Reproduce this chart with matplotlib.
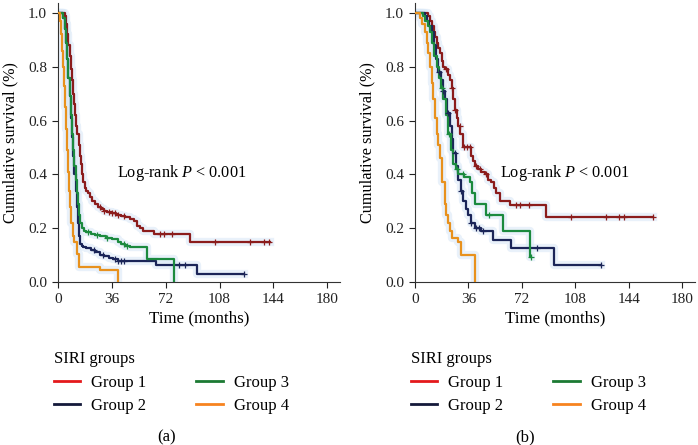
import numpy as np
import matplotlib
matplotlib.use("Agg")
import matplotlib.pyplot as plt

plt.rcParams['font.family'] = ['Liberation Serif', 'DejaVu Serif']
plt.rcParams['mathtext.fontset'] = 'custom'
plt.rcParams['mathtext.rm'] = 'Liberation Serif'
plt.rcParams['mathtext.it'] = 'Liberation Serif:italic'

group_names = ['Group 1', 'Group 2', 'Group 3', 'Group 4']
curve_colors = ['#8b1c1c', '#1b2558', '#1b8a3e', '#e8911d']
legend_colors = ['#e4191c', '#14193a', '#1c7a33', '#f7831f']
x_ticks = [0, 36, 72, 108, 144, 180]
y_ticks = [0.0, 0.2, 0.4, 0.6, 0.8, 1.0]

# ---- panel (a) ----
a_g1_time = [0, 4.7, 5.5, 6.3, 7.0, 7.8, 8.6, 9.3, 10.0, 10.8, 11.5, 12.3, 13.0, 13.8, 14.6, 15.4,
             16.2, 17.0, 17.8, 18.6, 20, 21.5, 23, 25, 27, 29, 31, 33, 36, 39, 42, 45, 48, 50.5,
             53, 55, 57, 64, 88.4, 142]
a_g1_surv = [1.0, 0.99, 0.96, 0.92, 0.88, 0.84, 0.79, 0.75, 0.70, 0.66, 0.62, 0.58, 0.55, 0.51, 0.47,
             0.44, 0.40, 0.37, 0.35, 0.34, 0.33, 0.315, 0.30, 0.29, 0.28, 0.27, 0.265, 0.26, 0.255,
             0.25, 0.245, 0.24, 0.235, 0.225, 0.21, 0.20, 0.19, 0.18, 0.15, 0.15]
a_g1_cens = [28, 31, 34, 36, 38, 40, 44, 68, 71, 76, 105, 128.6, 137.6, 141]

a_g2_time = [0, 3.6, 4.5, 5.4, 6.2, 7.0, 7.8, 8.6, 9.4, 10.2, 11.0, 11.8, 12.6, 13.4, 14.2, 15.0,
             16, 17, 19, 22, 25, 28, 31, 34, 37, 40, 65.5, 93, 124]
a_g2_surv = [1.0, 0.98, 0.94, 0.89, 0.83, 0.76, 0.69, 0.61, 0.54, 0.47, 0.40, 0.34, 0.28, 0.22,
             0.17, 0.14, 0.135, 0.13, 0.125, 0.12, 0.11, 0.10, 0.095, 0.09, 0.085, 0.077, 0.062,
             0.03, 0.03]
a_g2_cens = [24, 30, 38, 40, 42, 44, 81, 85, 124]

a_g3_time = [0, 3.6, 4.5, 5.4, 6.2, 7.0, 7.8, 8.6, 9.4, 10.2, 11.0, 11.8, 12.6, 13.4, 14.2, 15.0,
             16, 17.5, 19, 22, 25, 28, 32, 36, 40, 42, 45, 48, 59.4, 77.3]
a_g3_surv = [1.0, 0.98, 0.94, 0.89, 0.83, 0.76, 0.69, 0.62, 0.55, 0.49, 0.43, 0.38, 0.33, 0.29,
             0.25, 0.22, 0.20, 0.19, 0.185, 0.18, 0.175, 0.17, 0.165, 0.16, 0.15, 0.14, 0.135,
             0.13, 0.087, 0.0]
a_g3_cens = [20, 26, 33, 44, 46]

a_g4_time = [0, 1.3, 2.0, 2.7, 3.4, 4.1, 4.8, 5.5, 6.2, 6.9, 7.6, 8.3, 9.0, 10.0, 11.0, 12.5,
             14.3, 28, 40.4]
a_g4_surv = [1.0, 0.97, 0.92, 0.86, 0.80, 0.73, 0.65, 0.57, 0.49, 0.41, 0.34, 0.28, 0.22, 0.17,
             0.15, 0.105, 0.056, 0.043, 0.0]
a_g4_cens = []

# ---- panel (b) ----
b_g1_time = [0, 9, 10, 11.2, 12.5, 13.5, 14.5, 15.6, 16.8, 18, 19, 20.5, 22.4, 23.5, 24.6, 25.7,
             26.8, 28, 29.1, 30.5, 32.4, 38, 39.1, 40.5, 42.5, 44.5, 47, 49, 51.4, 53, 54.8, 57,
             63.7, 88.3, 160]
b_g1_surv = [1.0, 0.99, 0.97, 0.95, 0.93, 0.91, 0.89, 0.87, 0.85, 0.82, 0.80, 0.79, 0.77, 0.75,
             0.72, 0.68, 0.64, 0.61, 0.58, 0.55, 0.50, 0.47, 0.45, 0.43, 0.42, 0.41, 0.40, 0.38,
             0.37, 0.35, 0.33, 0.30, 0.285, 0.24, 0.24]
b_g1_cens = [21, 25, 27, 30, 33, 35, 37, 41, 44, 48, 68, 71, 77, 105, 128.6, 137.5, 141, 160]

b_g2_time = [0, 6.7, 8, 9.5, 11.2, 12.7, 14.2, 15.7, 17.2, 18.7, 20.1, 21.8, 23.5, 24.6, 25.7,
             27.4, 29.1, 30.7, 32.4, 34.1, 35.8, 38, 40.3, 44.7, 52.5, 64.8, 93.9, 125]
b_g2_surv = [1.0, 0.99, 0.97, 0.95, 0.93, 0.88, 0.83, 0.78, 0.75, 0.71, 0.68, 0.63, 0.58, 0.53,
             0.48, 0.43, 0.38, 0.34, 0.30, 0.27, 0.25, 0.22, 0.20, 0.19, 0.155, 0.125, 0.062,
             0.062]
b_g2_cens = [16, 19, 22, 27, 31, 38, 41, 43, 46, 82, 125]

b_g3_time = [0, 5.6, 7, 8.5, 10, 11.5, 13, 14.5, 16, 17.5, 19, 20.7, 22.4, 24, 25.7, 27.4, 29.1,
             33, 36.9, 38.5, 40.3, 48.1, 59.3, 77.1, 78.3]
b_g3_surv = [1.0, 0.99, 0.97, 0.95, 0.93, 0.89, 0.84, 0.80, 0.76, 0.72, 0.68, 0.62, 0.55, 0.49,
             0.44, 0.42, 0.40, 0.39, 0.37, 0.33, 0.29, 0.25, 0.19, 0.093, 0.093]
b_g3_cens = [18, 23, 28, 32, 50, 78.3]

b_g4_time = [0, 3.4, 5, 6.7, 7.8, 8.9, 10, 11.2, 12.3, 13.4, 14.5, 15.6, 16.8, 18.4, 20.1, 21.2,
             22.4, 23.5, 24.6, 29.1, 31.3, 40.3]
b_g4_surv = [1.0, 0.98, 0.96, 0.93, 0.89, 0.85, 0.80, 0.74, 0.68, 0.61, 0.55, 0.51, 0.46, 0.37,
             0.29, 0.25, 0.22, 0.19, 0.165, 0.15, 0.10, 0.0]
b_g4_cens = []


def surv_at(times, surv, t):
    # value of a step (post) curve at time t
    i = np.searchsorted(times, t, side='right') - 1
    return np.array(surv)[i]


def km_panel(ax, curves, p_x):
    for (times, surv, cens), col in zip(curves, curve_colors):
        ax.step(times, surv, where='post', color='#dbe9f7', lw=6, alpha=0.6, zorder=1)
    for (times, surv, cens), col in zip(curves, curve_colors):
        ax.step(times, surv, where='post', color=col, lw=1.6, zorder=3)
        if len(cens) > 0:
            ax.plot(cens, [surv_at(times, surv, c) for c in cens], ls='none', marker='+',
                    ms=4, mew=0.9, color=col, zorder=4)
    ax.set_xlim(0, 188.5)
    ax.set_ylim(0, 1.037)
    ax.set_xticks(x_ticks)
    ax.set_yticks(y_ticks)
    ax.set_yticklabels(['%.1f' % v for v in y_ticks])
    ax.tick_params(labelsize=11, length=4, width=0.8, colors='#222222')
    ax.tick_params(axis='x', pad=4)
    ax.tick_params(axis='y', pad=4)
    ax.spines['top'].set_visible(False)
    ax.spines['right'].set_visible(False)
    ax.spines['left'].set_color('#333333')
    ax.spines['bottom'].set_color('#333333')
    ax.set_xlabel('Time (months)', fontsize=12.2, labelpad=3)
    ax.set_ylabel('Cumulative survival (%)', fontsize=11.7, labelpad=7)
    ax.text(p_x, 0.405, r'Log-rank $P$ < 0.001', fontsize=11.7, va='center', ha='left')

    handles = [plt.Line2D([], [], color=c, lw=2) for c in legend_colors]
    leg = ax.legend(handles, group_names, title='SIRI groups', ncol=2, frameon=False,
                    loc='upper left', bbox_to_anchor=(-0.015, -0.248), borderpad=0,
                    borderaxespad=0, handlelength=1.6, handletextpad=0.65,
                    columnspacing=3.0, labelspacing=0.45, fontsize=12,
                    title_fontsize=12, alignment='left')
    return leg


fig = plt.figure(figsize=(6.98, 4.45), dpi=100)
ax_a = fig.add_axes([58 / 698, 1 - 282 / 445, 282 / 698, 279 / 445])
ax_b = fig.add_axes([415 / 698, 1 - 282 / 445, 280 / 698, 279 / 445])

km_panel(ax_a, [(a_g1_time, a_g1_surv, a_g1_cens), (a_g2_time, a_g2_surv, a_g2_cens),
                (a_g3_time, a_g3_surv, a_g3_cens), (a_g4_time, a_g4_surv, a_g4_cens)], 39.5)
km_panel(ax_b, [(b_g1_time, b_g1_surv, b_g1_cens), (b_g2_time, b_g2_surv, b_g2_cens),
                (b_g3_time, b_g3_surv, b_g3_cens), (b_g4_time, b_g4_surv, b_g4_cens)], 57)

fig.text(167 / 698, 1 - 437 / 445, '(a)', fontsize=12, ha='center', va='center')
fig.text(525 / 698, 1 - 437 / 445, '(b)', fontsize=12, ha='center', va='center')

fig.savefig('out.png', dpi=100)
